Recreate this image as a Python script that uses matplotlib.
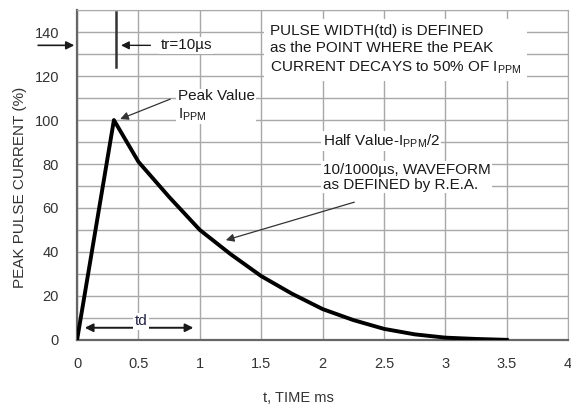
import matplotlib
matplotlib.use("Agg")
import matplotlib.pyplot as plt

plt.rcParams['font.family'] = ['Liberation Sans', 'DejaVu Sans']
plt.rcParams['mathtext.fontset'] = 'custom'
plt.rcParams['mathtext.rm'] = 'Liberation Sans'
plt.rcParams['mathtext.it'] = 'Liberation Sans'

# waveform
t_ms = [0, 0.3, 0.5, 0.75, 1.0, 1.25, 1.5, 1.75, 2.0, 2.25, 2.5, 2.75, 3.0, 3.25, 3.5]
current = [0, 100, 81, 65, 50, 39, 29, 21, 14, 9, 5, 2.5, 1, 0.4, 0]

x_ticks = [0, 0.5, 1, 1.5, 2, 2.5, 3, 3.5, 4]
x_labels = ['0', '0.5', '1', '1.5', '2', '2.5', '3', '3.5', '4']
y_ticks = [0, 20, 40, 60, 80, 100, 120, 140]

fs = 11
ink = '#1a1a1a'

fig = plt.figure(figsize=(5.71, 4.07), dpi=100)
ax = fig.add_axes([0.135, 0.165, 0.86, 0.81])

ax.set_xlim(0, 4)
ax.set_ylim(0, 150)
ax.set_xticks(x_ticks)
ax.set_xticklabels(x_labels)
ax.set_yticks(y_ticks)
ax.set_yticks(range(0, 151, 10), minor=True)
ax.tick_params(which='both', length=0, labelsize=10.5, colors='#333333')
ax.tick_params(axis='x', pad=12)
ax.tick_params(axis='y', pad=13)
ax.grid(True, which='both', color='#a8a8a8', lw=1)
ax.set_axisbelow(True)
for s in ['top', 'right']:
    ax.spines[s].set_color('#aaaaaa')
for s in ['left', 'bottom']:
    ax.spines[s].set_color('#666666')
    ax.spines[s].set_linewidth(1.6)

ax.plot(t_ms, current, color='black', lw=2.8, solid_joinstyle='round', zorder=5)

ax.set_xlabel('t, TIME ms', fontsize=10.5, color='#333333', va='center')
ax.xaxis.set_label_coords(0.45, -0.176)
ax.set_ylabel('PEAK PULSE CURRENT (%)', fontsize=11, color='#333333', va='center')
ax.yaxis.set_label_coords(-0.116, 0.464)

box = dict(facecolor='white', edgecolor='none', pad=1)

# tr marker
ax.plot([0.32, 0.32], [124, 149], color='#333333', lw=1.8)
ax.annotate('', xy=(0.335, 134), xytext=(0.62, 134),
            arrowprops=dict(arrowstyle='-|>', color=ink, lw=1, mutation_scale=12))
ax.text(0.68, 134, 'tr=10µs', fontsize=fs, va='center', ha='left', color=ink, bbox=box)
ax.annotate('', xy=(0, 134), xytext=(-0.34, 134), annotation_clip=False,
            arrowprops=dict(arrowstyle='-|>', color=ink, lw=1.2, mutation_scale=12))

ax.text(1.57, 132, 'PULSE WIDTH(td) is DEFINED\nas the POINT WHERE the PEAK\n'
        'CURRENT DECAYS to 50% OF I$_{\\mathrm{PPM}}$',
        fontsize=fs, va='center', ha='left', multialignment='left', color=ink,
        linespacing=1.35, bbox=dict(facecolor='white', edgecolor='none', pad=4))

ax.text(0.82, 106.5, 'Peak Value\nI$_{\\mathrm{PPM}}$', fontsize=fs, va='center', ha='left',
        multialignment='left', color=ink, linespacing=1.3, bbox=box)
ax.annotate('', xy=(0.33, 100), xytext=(0.78, 110),
            arrowprops=dict(arrowstyle='-|>', color='#333333', lw=0.9, mutation_scale=12))

ax.text(2.0, 90.5, 'Half Value-I$_{\\mathrm{PPM}}$/2', fontsize=fs, va='center', ha='left',
        color=ink, bbox=box)
ax.text(2.0, 74, '10/1000µs, WAVEFORM\nas DEFINED by R.E.A.', fontsize=fs, va='center',
        ha='left', multialignment='left', color=ink, linespacing=1.1, bbox=box)
ax.annotate('', xy=(1.19, 45), xytext=(2.28, 63),
            arrowprops=dict(arrowstyle='-|>', color='#333333', lw=0.9, mutation_scale=12))

# td
ax.annotate('', xy=(0.04, 5.5), xytext=(0.97, 5.5),
            arrowprops=dict(arrowstyle='<|-|>', color=ink, lw=1.4, mutation_scale=12))
ax.text(0.52, 8.5, 'td', fontsize=fs, va='center', ha='center', color='#222244', bbox=box)

fig.savefig('out.png', dpi=100)
